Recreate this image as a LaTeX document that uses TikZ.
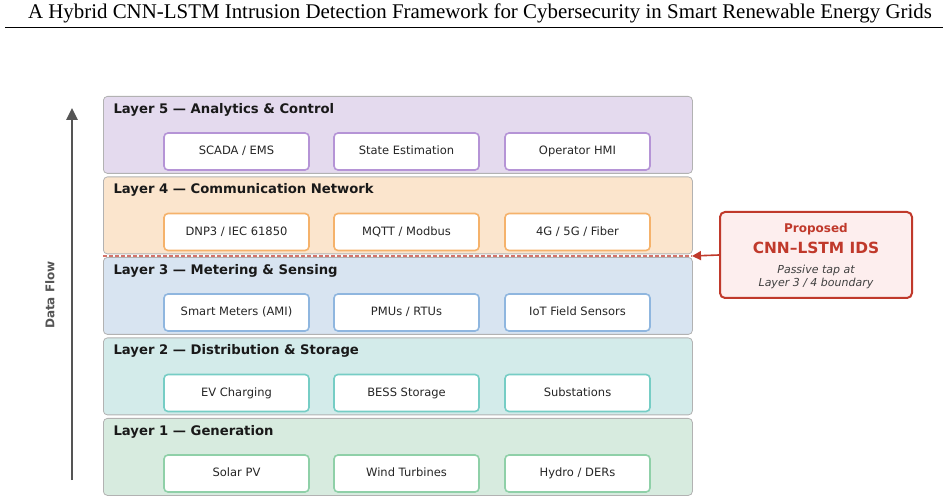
\documentclass[tikz,border=0pt]{standalone}
\usepackage{fontspec}
\setmainfont{DejaVu Sans}
\newfontfamily\titlefont{Liberation Serif}
\usetikzlibrary{arrows.meta, positioning}
\definecolor{lfivefill}{HTML}{E4DAEE}
\definecolor{lfiveedge}{HTML}{B594D6}
\definecolor{lfourfill}{HTML}{FBE5CD}
\definecolor{lfouredge}{HTML}{F5B26B}
\definecolor{lthreefill}{HTML}{D8E4F1}
\definecolor{lthreeedge}{HTML}{8FB6DF}
\definecolor{ltwofill}{HTML}{D3EBEA}
\definecolor{ltwoedge}{HTML}{76CDC5}
\definecolor{lonefill}{HTML}{D7EBDF}
\definecolor{loneedge}{HTML}{8FD0A8}
\definecolor{idsred}{HTML}{C0392B}
\definecolor{idsfill}{HTML}{FDEEEE}
\definecolor{flowgray}{HTML}{555555}

\begin{document}
\begin{tikzpicture}[
            x=1pt, y=-1pt,
            layer box/.style={draw=black!30, line width=0.8pt, rounded corners=4pt, minimum width=589pt, minimum height=77pt, inner sep=0pt, anchor=north west},
            item box/.style={line width=1.6pt, fill=white, rounded corners=4pt, minimum width=145pt, minimum height=37pt, text height=8.5pt, text depth=2pt, font=\fontsize{11.5}{13}\selectfont, text=black!85},
            layer title/.style={font=\fontsize{13.2}{15}\selectfont\bfseries, text=black!90, anchor=west},
            boundary line/.style={line width=1.4pt, idsred!70, dash pattern=on 4pt off 2pt},
            tap arrow/.style={line width=1.6pt, idsred, -{Triangle[length=9pt, width=9pt]}},
            flow arrow/.style={line width=2.5pt, flowgray, -{Triangle[length=12pt, width=11pt]}},
        ]

        \useasboundingbox (0,0) rectangle (948,502);

        % Title and rule
        \node[font=\titlefont\fontsize{20.9}{24}\selectfont] (title) at (480,13) {A Hybrid CNN-LSTM Intrusion Detection Framework for Cybersecurity in Smart Renewable Energy Grids};
        \draw[line width=0.8pt] (5,27) -- (943,27);

        % Layers, top to bottom
        \foreach \n/\top/\fillc/\edgec/\name/\a/\b/\c in {
            5/96/lfivefill/lfiveedge/{Analytics \& Control}/{SCADA / EMS}/{State Estimation}/{Operator HMI},
            4/176.5/lfourfill/lfouredge/{Communication Network}/{DNP3 / IEC 61850}/{MQTT / Modbus}/{4G / 5G / Fiber},
            3/257/lthreefill/lthreeedge/{Metering \& Sensing}/{Smart Meters (AMI)}/{PMUs / RTUs}/{IoT Field Sensors},
            2/337.5/ltwofill/ltwoedge/{Distribution \& Storage}/{EV Charging}/{BESS Storage}/{Substations},
            1/418/lonefill/loneedge/{Generation}/{Solar PV}/{Wind Turbines}/{Hydro / DERs}} {
            \node[layer box, fill=\fillc] (layer\n) at (103,\top) {};
            \node[layer title] (title\n) at (110,\top+13.5) {Layer \n{} — \name};
            \node[item box, draw=\edgec] (item\n-1) at (236.5,\top+55.5) {\a};
            \node[item box, draw=\edgec] (item\n-2) at (406.5,\top+55.5) {\b};
            \node[item box, draw=\edgec] (item\n-3) at (577.5,\top+55.5) {\c};
        }

        % Layer 3 / 4 boundary
        \coordinate (bound left) at (103,256);
        \coordinate (tap) at (692,256);
        \draw[boundary line] (bound left) -- (tap);

        % Proposed IDS
        \node[draw=idsred, line width=2pt, fill=idsfill, rounded corners=5pt, minimum width=192pt, minimum height=86pt] (ids) at (816,255) {};
        \node[font=\fontsize{12}{14}\selectfont\bfseries, text=idsred] (ids top) at (816,229) {Proposed};
        \node[font=\fontsize{15.4}{18}\selectfont\bfseries, text=idsred] (ids name) at (816,248) {CNN–LSTM IDS};
        \node[font=\fontsize{11}{13.5}\selectfont\itshape, text=black!75, align=center] (ids note) at (816,277) {Passive tap at\\Layer 3 / 4 boundary};
        \draw[tap arrow] (ids.west) -- (tap);

        % Data flow
        \coordinate (flow start) at (72,480);
        \coordinate (flow end) at (72,108);
        \draw[flow arrow] (flow start) -- (flow end);
        \node[rotate=90, font=\fontsize{12}{14}\selectfont\bfseries, text=flowgray] (flow label) at (50,295) {Data Flow};

        \end{tikzpicture}
\end{document}
